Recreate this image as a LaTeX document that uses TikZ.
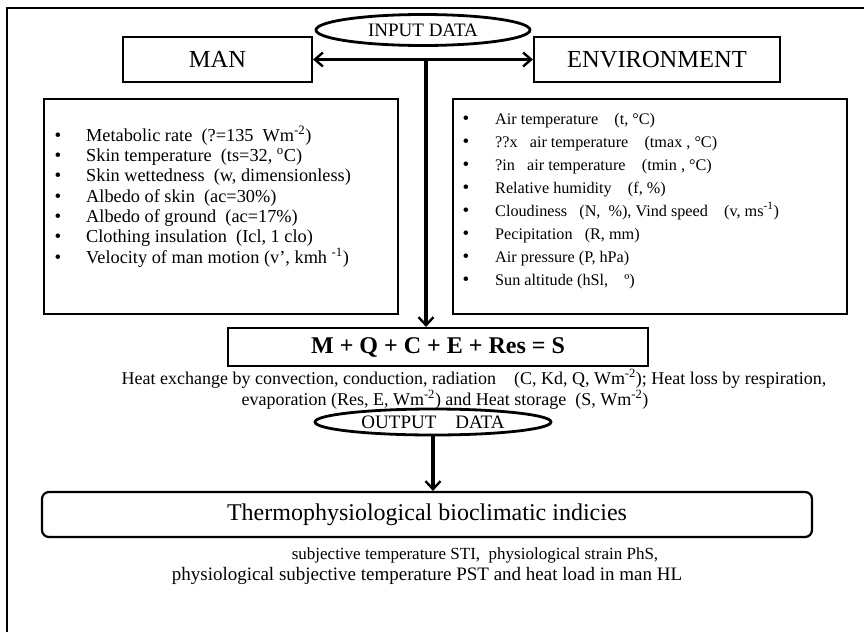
\documentclass[tikz,border=0pt]{standalone}
\usepackage{fontspec}
\setmainfont{Liberation Serif}
\usetikzlibrary{shapes.geometric,arrows.meta}
\begin{document}
\begin{tikzpicture}[x=1pt,y=-1pt,
  box/.style={draw,line width=2.2pt,inner sep=0pt},
  oval/.style={draw,ellipse,line width=2.8pt,inner sep=0pt,font=\fontsize{19}{22}\selectfont},
  big/.style={font=\fontsize{24.5}{28}\selectfont},
  li/.style={anchor=base west,inner sep=0pt,font=\fontsize{18.3}{21}\selectfont},
  ri/.style={anchor=base west,inner sep=0pt,font=\fontsize{16.2}{19}\selectfont},
  bul/.style={anchor=base,inner sep=0pt,font=\fontsize{19}{21}\selectfont},
  txt/.style={anchor=base,inner sep=0pt,font=\fontsize{18}{21}\selectfont},
  barb/.style={-{Straight Barb[length=8pt,width=15pt,line width=2.4pt]}},
  arr/.style={line width=3.2pt,barb},
  darr/.style={line width=3.2pt,{Straight Barb[length=8pt,width=14pt,line width=2.4pt]}-{Straight Barb[length=8pt,width=14pt,line width=2.4pt]}}
]
\useasboundingbox (0,0) rectangle (864,632);
\draw[line width=1.6pt] (7,632) -- (7,8) -- (864,8);

\node[oval,minimum width=214pt,minimum height=31pt] (in) at (423,30) {INPUT DATA};
\node[box,big,minimum width=189pt,minimum height=45pt] (man) at (217.5,59.5) {MAN};
\node[box,big,minimum width=246pt,minimum height=45pt] (env) at (657,59.5) {ENVIRONMENT};
\node[box,minimum width=354pt,minimum height=215pt] (lbox) at (221,206.5) {};
\node[box,minimum width=394pt,minimum height=215pt] (rbox) at (650,206.5) {};
\node[box,minimum width=420pt,minimum height=38pt,font=\fontsize{24}{28}\selectfont\bfseries] (eq) at (438,347) {M + Q + C + E + Res = S};

\coordinate (j) at (426,59.5);
\draw[darr] (man.east) -- (env.west);
\draw[arr] (j) -- (eq.north -| j);

% left list
\foreach \y/\n in {141/a,161/b,181/c,202/d,222/e,242/f,263/g}{\node[bul] (lb\n) at (58,\y) {•};}
\node[li] (l1) at (86,141) {Metabolic rate \ (?=135 \ Wm\textsuperscript{-2})};
\node[li] (l2) at (86,161) {Skin temperature \ (ts=32, \textsuperscript{o}C)};
\node[li] (l3) at (86,181) {Skin wettedness \ (w, dimensionless)};
\node[li] (l4) at (86,202) {Albedo of skin \ (ac=30\%)};
\node[li] (l5) at (86,222) {Albedo of ground \ (ac=17\%)};
\node[li] (l6) at (86,242) {Clothing insulation \ (Icl, 1 clo)};
\node[li] (l7) at (86,263) {Velocity of man motion (v’, kmh \textsuperscript{-1})};

% right list
\foreach \y/\n in {124/a,147/b,170/c,193/d,216/e,239/f,262/g,285/h}{\node[bul] (rb\n) at (466,\y) {•};}
\node[ri] (r1) at (495,124) {Air temperature \ \ \ (t, °C)};
\node[ri] (r2) at (495,147) {??x \ \ air temperature \ \ \ (tmax , °C)};
\node[ri] (r3) at (495,170) {?in \ \ air temperature \ \ \ (tmin , °C)};
\node[ri] (r4) at (495,193) {Relative humidity \ \ \ (f, \%)};
\node[ri] (r5) at (495,216) {Cloudiness \ \ (N, \ \%), Vind speed \ \ \ (v, ms\textsuperscript{-1})};
\node[ri] (r6) at (495,239) {Pecipitation \ \ (R, mm)};
\node[ri] (r7) at (495,262) {Air pressure (P, hPa)};
\node[ri] (r8) at (495,285) {Sun altitude (hSl, \ \ \ º)};

% heat text
\node[txt] (h1) at (474,384) {Heat exchange by convection, conduction, radiation \ \ \ (C, Kd, Q, Wm\textsuperscript{-2}); Heat loss by respiration,};
\node[txt] (h2) at (445,405) {evaporation (Res, E, Wm\textsuperscript{-2}) and Heat storage \ (S, Wm\textsuperscript{-2})};

\node[oval,minimum width=236pt,minimum height=26pt] (out) at (433,422) {OUTPUT \ \ \ DATA};
\node[box,rounded corners=7pt,minimum width=770pt,minimum height=45pt,font=\fontsize{24}{28}\selectfont] (th) at (427,514.5) {Thermophysiological bioclimatic indicies};
\draw[arr] (out.south) -- (th.north -| out.south);

\node[txt,font=\fontsize{17}{20}\selectfont] (s1) at (475,559) {subjective temperature STI, \ physiological strain PhS,};
\node[txt,font=\fontsize{19}{22}\selectfont] (s2) at (427,580) {physiological subjective temperature PST and heat load in man HL};
\end{tikzpicture}
\end{document}
